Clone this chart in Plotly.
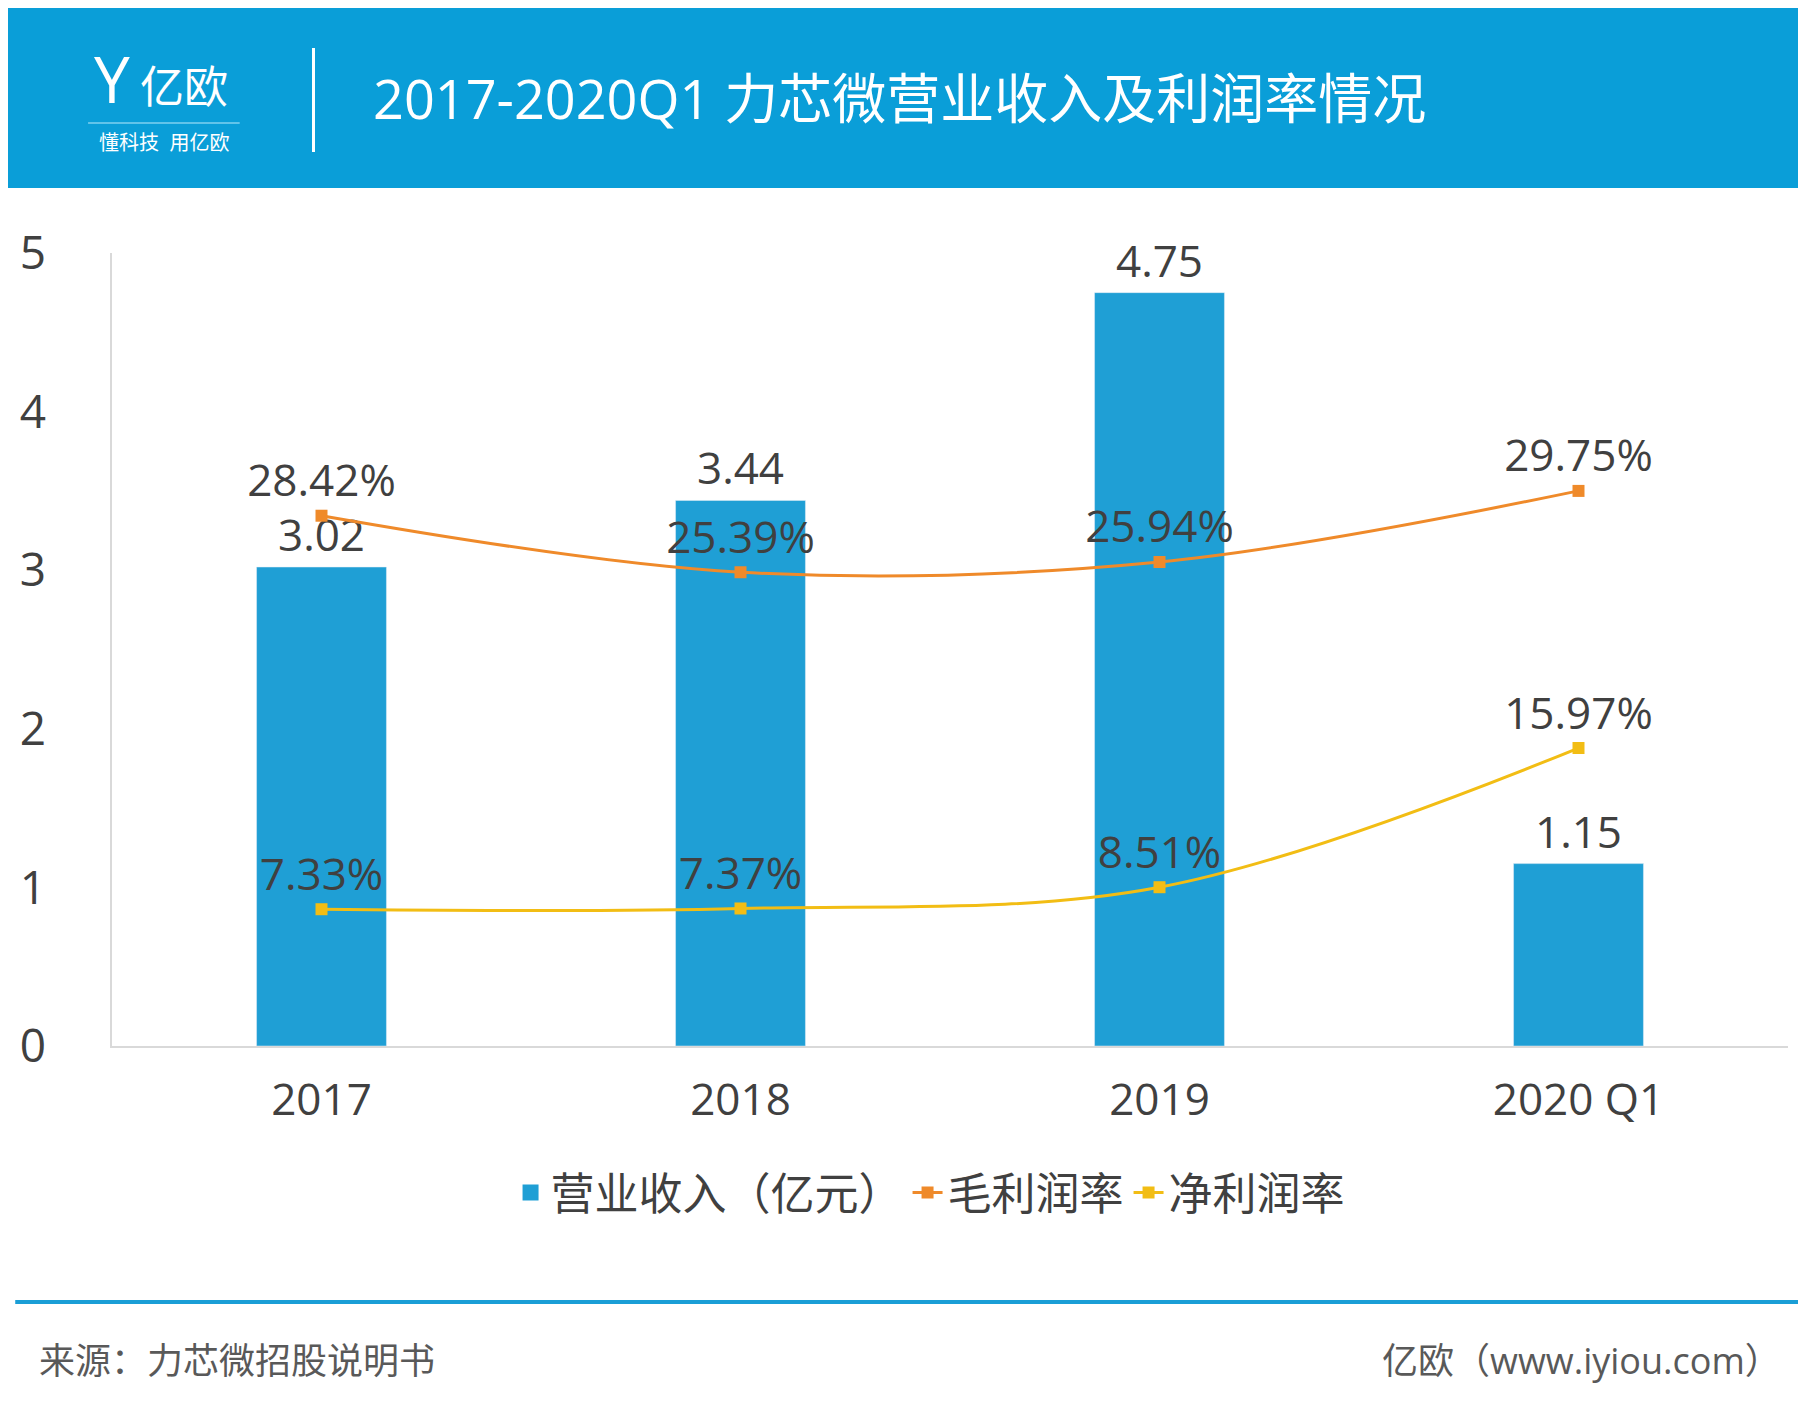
import plotly.graph_objects as go

W, H = 1806, 1410
L, R, T, B = 100, 26, 245, 372
PW, PH = W - L - R, H - T - B

years = ["2017", "2018", "2019", "2020 Q1"]
revenue = [3.02, 3.44, 4.75, 1.15]
gross_margin = [28.42, 25.39, 25.94, 29.75]
net_margin = [7.33, 7.37, 8.51, 15.97]

FONT = "Open Sans, Noto Sans CJK SC, sans-serif"
TXT = "#404040"
BLUE = "#1f9fd5"


def px(x):
    return (x - L) / PW


def py(y):
    return (H - B - y) / PH


fig = go.Figure()
fig.add_trace(go.Bar(x=years, y=revenue, name="营业收入（亿元）", marker_color=BLUE,
                     width=0.31, text=[f"{v:.2f}" for v in revenue], textposition="outside",
                     textfont=dict(size=44, color=TXT), cliponaxis=False, showlegend=False))
# legend swatch for the bars (bigger square than plotly's default bar icon)
fig.add_trace(go.Scatter(x=[None], y=[None], name="营业收入（亿元）", mode="markers",
                         marker=dict(symbol="square", size=30, color=BLUE)))
fig.add_trace(go.Scatter(x=years, y=gross_margin, name="毛利润率", yaxis="y2",
                         mode="lines+markers+text", line=dict(color="#ef8a2a", width=3, shape="spline"),
                         marker=dict(symbol="square", size=12),
                         text=[f"{v:.2f}%" for v in gross_margin], textposition="top center",
                         textfont=dict(size=44, color=TXT), cliponaxis=False))
fig.add_trace(go.Scatter(x=years, y=net_margin, name="净利润率", yaxis="y2",
                         mode="lines+markers+text", line=dict(color="#f2bd14", width=3, shape="spline"),
                         marker=dict(symbol="square", size=12),
                         text=[f"{v:.2f}%" for v in net_margin], textposition="top center",
                         textfont=dict(size=44, color=TXT), cliponaxis=False))

shapes = [
    dict(type="rect", xref="paper", yref="paper", x0=px(-5), x1=px(1803), y0=py(180), y1=py(-5),
         fillcolor="#0a9ed8", line_width=0, layer="below"),
    dict(type="line", xref="paper", yref="paper", x0=px(302), x1=px(302), y0=py(144), y1=py(40),
         line=dict(color="white", width=3)),
    dict(type="line", xref="paper", yref="paper", x0=px(76), x1=px(228), y0=py(115), y1=py(115),
         line=dict(color="#7fd0f0", width=1.5)),
    dict(type="line", xref="paper", yref="paper", x0=px(3), x1=px(1803), y0=py(1294), y1=py(1294),
         line=dict(color="#1a9ed6", width=4)),
]

annotations = [
    dict(text="2017-2020Q1 力芯微营业收入及利润率情况", x=px(360), y=py(90), xanchor="left", yanchor="middle",
         font=dict(size=54, color="white", family=FONT)),
    dict(text="Y", x=px(100), y=py(70), xanchor="center", yanchor="middle",
         font=dict(size=64, color="white", family=FONT)),
    dict(text="亿欧", x=px(126), y=py(78), xanchor="left", yanchor="middle",
         font=dict(size=44, color="white", family=FONT)),
    dict(text="懂科技  用亿欧", x=px(152), y=py(134), xanchor="center", yanchor="middle",
         font=dict(size=20, color="white", family=FONT)),
    dict(text="来源：力芯微招股说明书", x=px(25), y=py(1352), xanchor="left", yanchor="middle",
         font=dict(size=36, color="#595959", family=FONT)),
    dict(text="亿欧（www.iyiou.com）", x=px(1775), y=py(1352), xanchor="right", yanchor="middle",
         font=dict(size=36, color="#595959", family=FONT)),
]
for a in annotations:
    a.update(xref="paper", yref="paper", showarrow=False)

fig.update_layout(
    width=W, height=H, margin=dict(l=L, r=R, t=T, b=B),
    paper_bgcolor="white", plot_bgcolor="white",
    font=dict(family=FONT, color=TXT, size=44),
    showlegend=True,
    legend=dict(orientation="h", x=px(920), y=py(1185), xanchor="center", yanchor="middle",
                font=dict(size=44, color=TXT), itemwidth=30, traceorder="normal"),
    xaxis=dict(showgrid=False, showline=True, linecolor="#d9d9d9", linewidth=1.5,
               ticks="", ticklabelstandoff=14, tickfont=dict(size=44, color=TXT)),
    yaxis=dict(range=[0, 5], dtick=1, showgrid=False, showline=True, linecolor="#d9d9d9",
               linewidth=1.5, zeroline=False, ticks="", ticklabelstandoff=55,
               tickfont=dict(size=46, color=TXT)),
    yaxis2=dict(range=[0, 42.5], overlaying="y", side="right", visible=False),
    shapes=shapes, annotations=annotations, bargap=0.69,
)

fig.write_html("out.html")
